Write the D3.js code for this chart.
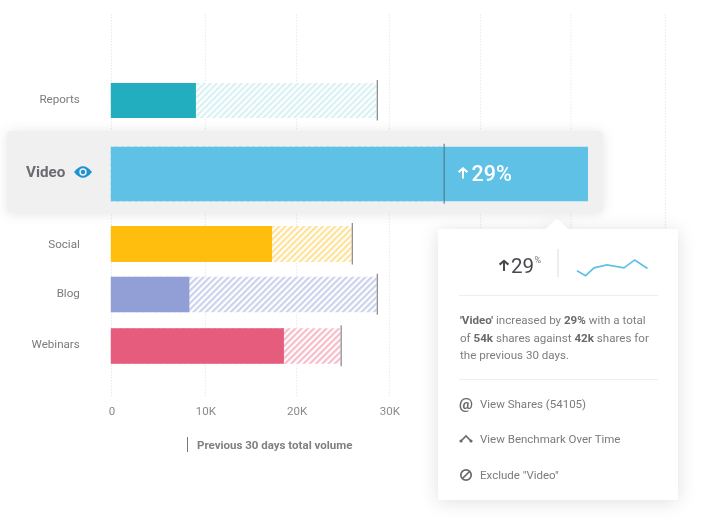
<!DOCTYPE html>
<html><head><meta charset="utf-8">
<script src="https://cdnjs.cloudflare.com/ajax/libs/d3/7.8.5/d3.min.js"></script>
<style>
html,body{margin:0;padding:0;background:#fff}
svg{display:block}
text{font-family:Roboto,sans-serif}
</style></head><body>
<svg id="c" width="726" height="520"></svg>
<script>
const categories = ["Reports","Video","Social","Blog","Webinars"];
const currentValues = [9.0,51.8,17.3,8.3,18.6];
const previousValues = [28.7,36.0,26.0,28.7,24.8];
const barColors = ["#23AEBF","#5EC1E6","#FFBD0A","#919FD6","#E55B7B"];
const hatchColors = ["#D8F1F4","#5EC1E6","#FFE296","#CBD2EC","#F6BCCA"];
const gridTicks = [0,10,20,30,40,50,60];
const axisTicks = [0,10,20,30];
const sparkDays = [0,2,4,7,11,13.5,16.5];
const sparkValues = [2.6,1.2,3.4,4.2,3.4,5.6,3.2];
const detailLines = [
  [["'Video'",1],[" increased by ",0],["29%",1],[" with a total",0]],
  [["of ",0],["54k",1],[" shares against ",0],["42k",1],[" shares for",0]],
  [["the previous 30 days.",0]]
];
const menuItems = ["View Shares (54105)","View Benchmark Over Time","Exclude \"Video\""];

const svg = d3.select("#c");
const defs = svg.append("defs");
const x = d3.scaleLinear().domain(gridTicks).range([111.5,205.3,296.7,389.3,480.7,571,665.3]);
const yCenter = d3.scaleOrdinal().domain(categories).range([100.5,174,244,294.5,346]);
const barH = d3.scaleOrdinal().domain(categories).range([35,54.5,36,35.5,35.5]);
const labelY = d3.scaleOrdinal().domain(categories).range([99,172,244,293,344]);

function shadow(id,dy,blur,op){
  const f=defs.append("filter").attr("id",id).attr("x","-15%").attr("y","-25%").attr("width","130%").attr("height","150%");
  f.append("feDropShadow").attr("dx",0).attr("dy",dy).attr("stdDeviation",blur).attr("flood-color","#000").attr("flood-opacity",op);
}
shadow("s1",1,6,0.10); shadow("s2",2,9,0.12);
const soft=defs.append("filter").attr("id","soft").attr("filterUnits","userSpaceOnUse")
  .attr("x",0).attr("y",0).attr("width",726).attr("height",520);
soft.append("feGaussianBlur").attr("stdDeviation",0.4);

categories.forEach((c,i)=>{
  const p=defs.append("pattern").attr("id","h"+i).attr("patternUnits","userSpaceOnUse")
    .attr("width",4.4).attr("height",4.4).attr("patternTransform","rotate(45)");
  p.append("rect").attr("width",4.4).attr("height",4.4).attr("fill","#fff");
  p.append("rect").attr("width",2.2).attr("height",4.4).attr("fill",hatchColors[i]);
});

// arrow icon: shaft and head, tip at (0,0)
function upArrow(parent,ax,ay,size,color,sw){
  parent.append("path")
    .attr("d",`M0,${size} V1.5 M${-size*0.4},${size*0.42} L0,0.8 L${size*0.4},${size*0.42}`)
    .attr("transform",`translate(${ax},${ay})`)
    .attr("fill","none").attr("stroke",color).attr("stroke-width",sw);
}

// grid
svg.append("g").selectAll("line").data(gridTicks).join("line")
  .attr("x1",d=>x(d)).attr("x2",d=>x(d)).attr("y1",14).attr("y2",397)
  .attr("stroke","#e9e9e9").attr("stroke-width",1).attr("stroke-dasharray","1.5 1.5");

const marks=svg.append("g").attr("filter","url(#soft)");

// axis
const axis=marks.append("g").attr("transform","translate(0,411)")
  .call(d3.axisBottom(x).tickValues(axisTicks).tickSize(0).tickPadding(0).tickFormat(d=>d===0?"0":d+"K"));
axis.select(".domain").remove();
axis.selectAll("text").attr("font-family","Roboto").attr("font-size",11.5).attr("fill","#8a8a8a").attr("dy","0.35em");

// highlight panel
marks.append("rect").attr("x",7).attr("y",131).attr("width",596).attr("height",82).attr("rx",4)
  .attr("fill","#f0f0f0").attr("filter","url(#s1)");

// bars
const rows=marks.append("g").selectAll("g").data(categories).join("g");
rows.append("rect").attr("x",x(0)-0.7).attr("y",d=>yCenter(d)-barH(d)/2)
  .attr("width",(d,i)=>Math.max(0,x(previousValues[i])-x(0))).attr("height",barH)
  .attr("fill",(d,i)=>`url(#h${i})`);
rows.append("rect").attr("x",x(0)-0.7).attr("y",d=>yCenter(d)-barH(d)/2)
  .attr("width",(d,i)=>x(currentValues[i])-x(0)+0.7).attr("height",barH)
  .attr("fill",(d,i)=>barColors[i]);
rows.append("line").attr("x1",(d,i)=>x(previousValues[i])).attr("x2",(d,i)=>x(previousValues[i]))
  .attr("y1",d=>yCenter(d)-barH(d)/2-3).attr("y2",d=>yCenter(d)+barH(d)/2+2.5)
  .attr("stroke",(d,i)=>i===1?"#4f6f7f":"#6f6f6f").attr("stroke-width",1);

// category labels
rows.filter(d=>d!=="Video").append("text").attr("x",79.8).attr("y",d=>labelY(d)).attr("dy","0.35em")
  .attr("text-anchor","end").attr("font-size",11.6).attr("fill","#7b7b7b").text(d=>d);
marks.append("text").attr("x",26).attr("y",labelY("Video")).attr("dy","0.36em").attr("font-size",15.2)
  .attr("font-weight",700).attr("fill","#6b6b6f").text("Video");

// eye icon
const eye=marks.append("g").attr("transform",`translate(83,${labelY("Video")})`);
eye.append("path").attr("d","M-9,0 Q0,-11.5 9,0 Q0,11.5 -9,0 Z").attr("fill","#1F94D2");
eye.append("circle").attr("r",3.7).attr("fill","#f0f0f0");
eye.append("circle").attr("r",2.2).attr("fill","#1F94D2");

// video change label
upArrow(marks,463,167.5,11,"#fff",2);
marks.append("text").attr("x",471.5).attr("y",180.5).attr("font-size",21.5).attr("font-weight",500).attr("fill","#fff").text("29%");

// tooltip
const tip=marks.append("g");
tip.append("path").attr("d","M438,232 a3,3 0 0 1 3,-3 H546 L557,219 L568,229 H675 a3,3 0 0 1 3,3 V497 a3,3 0 0 1 -3,3 H441 a3,3 0 0 1 -3,-3 Z")
  .attr("fill","#fff").attr("filter","url(#s2)");
upArrow(tip,504,260,11,"#48484e",2);
tip.append("text").attr("x",511).attr("y",272.5).attr("font-size",20.5).attr("fill","#48484e").text("29");
tip.append("text").attr("x",534.5).attr("y",263).attr("font-size",9).attr("fill","#777").text("%");
tip.append("line").attr("x1",558).attr("x2",558).attr("y1",249).attr("y2",277).attr("stroke","#e8e8e8").attr("stroke-width",1.5);

const sx=d3.scaleLinear().domain([0,16.5]).range([577,647.5]);
const sy=d3.scaleLinear().domain([0,6]).range([280,258.5]);
tip.append("path").attr("d",d3.line().x((d,i)=>sx(sparkDays[i])).y(d=>sy(d))(sparkValues))
  .attr("fill","none").attr("stroke","#5EC1E6").attr("stroke-width",1.7);

[295.5,379.5].forEach(yy=>tip.append("line").attr("x1",459).attr("x2",658).attr("y1",yy).attr("y2",yy)
  .attr("stroke","#eeeeee").attr("stroke-width",1));

const lineYs=d3.scaleLinear().domain([0,2]).range([324,359]);
detailLines.forEach((ln,i)=>{
  const t=tip.append("text").attr("x",460).attr("y",lineYs(i)).attr("font-size",11.6).attr("fill","#7e7e7e").style("white-space","pre");
  ln.forEach(([s,b])=>t.append("tspan").attr("font-weight",b?700:400).attr("fill",b?"#6a6a6a":"#7e7e7e").text(s));
});

const menuY=d3.scaleLinear().domain([0,2]).range([404,475]);
menuItems.forEach((m,i)=>{
  tip.append("text").attr("x",480).attr("y",menuY(i)+3.7).attr("font-size",11.5).attr("fill","#7b7b7b").text(m);
});
const ic=tip.append("g").attr("fill","none").attr("stroke","#6a6a6e");
tip.append("text").attr("x",466).attr("y",menuY(0)+4.5).attr("text-anchor","middle").attr("font-size",15.5).attr("font-weight",700).attr("fill","#6a6a6e").text("@");
ic.append("path").attr("d",`M461,${menuY(1)+1.5} L466,${menuY(1)-3.5} L471,${menuY(1)+1.5}`).attr("stroke-width",1.6);
ic.append("circle").attr("cx",461).attr("cy",menuY(1)+1.5).attr("r",1.6).attr("fill","#6a6a6e").attr("stroke","none");
ic.append("circle").attr("cx",471).attr("cy",menuY(1)+1.5).attr("r",1.6).attr("fill","#6a6a6e").attr("stroke","none");
ic.append("circle").attr("cx",466).attr("cy",menuY(2)).attr("r",5.2).attr("stroke-width",1.7);
ic.append("line").attr("x1",462.5).attr("x2",469.5).attr("y1",menuY(2)+3.5).attr("y2",menuY(2)-3.5).attr("stroke-width",1.7);

// legend
marks.append("line").attr("x1",187.5).attr("x2",187.5).attr("y1",437).attr("y2",452).attr("stroke","#777").attr("stroke-width",1);
marks.append("text").attr("x",197).attr("y",448.5).attr("font-size",11.5).attr("font-weight",700).attr("fill","#808080")
  .text("Previous 30 days total volume");
</script>
</body></html>
